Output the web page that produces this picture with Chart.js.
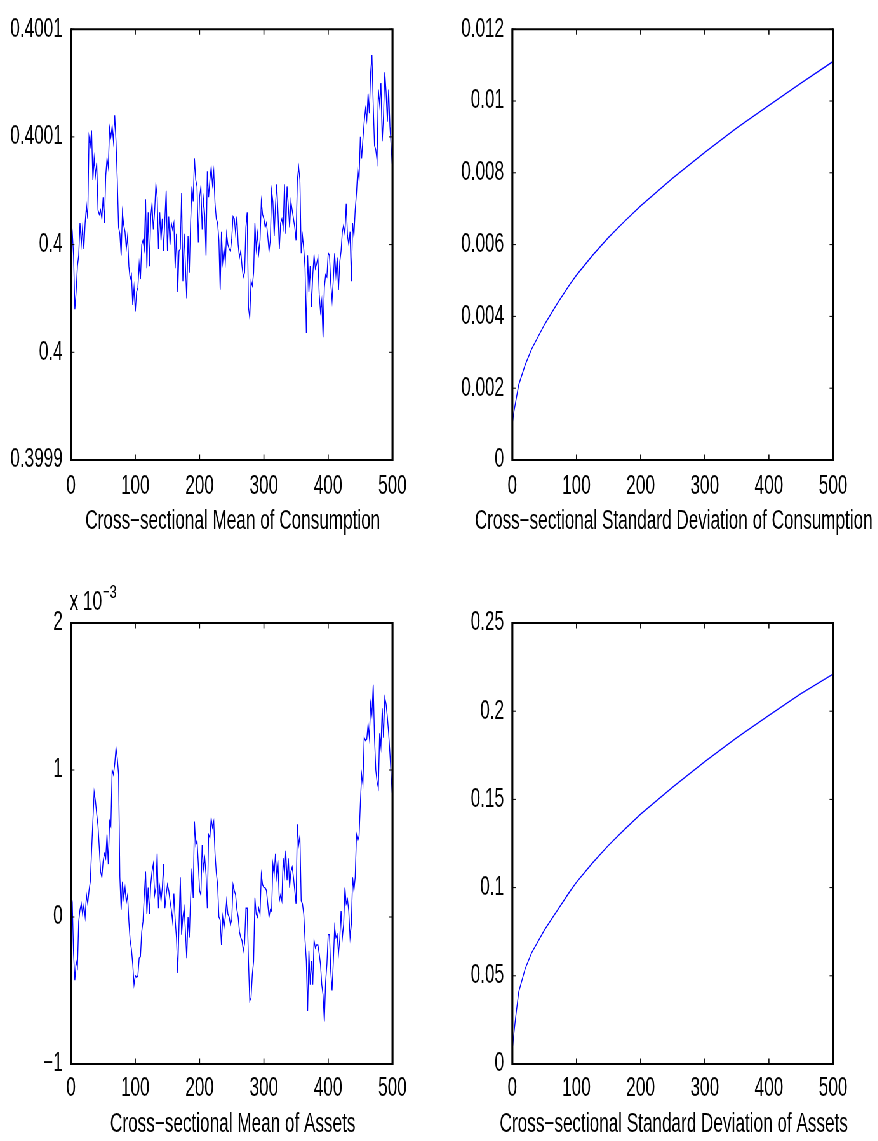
<!DOCTYPE html>
<html>
<head>
<meta charset="utf-8">
<script src="https://cdn.jsdelivr.net/npm/chart.js@4.4.1/dist/chart.umd.min.js"></script>
<style>
  html, body { margin: 0; padding: 0; background: #fff; }
  body { width: 878px; height: 1141px; overflow: hidden; position: relative; }
  #fig { position: absolute; left: 0; top: 0; width: 1400px; height: 1141px; transform-origin: 0 0; }
  #fig canvas { position: absolute; }
</style>
</head>
<body>
<div id="fig">
  <canvas id="meanCons"></canvas>
  <canvas id="sdCons"></canvas>
  <canvas id="meanAssets"></canvas>
  <canvas id="sdAssets"></canvas>
</div>
<script>
// simulation periods (every 2nd period is plotted)
var periods = [
  0, 2, 4, 6, 8, 10, 12, 14, 16, 18, 20, 22, 24, 26, 28, 30, 32, 34, 36, 38,
  40, 42, 44, 46, 48, 50, 52, 54, 56, 58, 60, 62, 64, 66, 68, 70, 72, 74, 76, 78,
  80, 82, 84, 86, 88, 90, 92, 94, 96, 98, 100, 102, 104, 106, 108, 110, 112, 114, 116, 118,
  120, 122, 124, 126, 128, 130, 132, 134, 136, 138, 140, 142, 144, 146, 148, 150, 152, 154, 156, 158,
  160, 162, 164, 166, 168, 170, 172, 174, 176, 178, 180, 182, 184, 186, 188, 190, 192, 194, 196, 198,
  200, 202, 204, 206, 208, 210, 212, 214, 216, 218, 220, 222, 224, 226, 228, 230, 232, 234, 236, 238,
  240, 242, 244, 246, 248, 250, 252, 254, 256, 258, 260, 262, 264, 266, 268, 270, 272, 274, 276, 278,
  280, 282, 284, 286, 288, 290, 292, 294, 296, 298, 300, 302, 304, 306, 308, 310, 312, 314, 316, 318,
  320, 322, 324, 326, 328, 330, 332, 334, 336, 338, 340, 342, 344, 346, 348, 350, 352, 354, 356, 358,
  360, 362, 364, 366, 368, 370, 372, 374, 376, 378, 380, 382, 384, 386, 388, 390, 392, 394, 396, 398,
  400, 402, 404, 406, 408, 410, 412, 414, 416, 418, 420, 422, 424, 426, 428, 430, 432, 434, 436, 438,
  440, 442, 444, 446, 448, 450, 452, 454, 456, 458, 460, 462, 464, 466, 468, 470, 472, 474, 476, 478,
  480, 482, 484, 486, 488, 490, 492, 494, 496, 498, 500
];

var meanConsumption = [
  0.400012, 0.400006, 0.399995, 0.399970, 0.399978, 0.399990, 0.399995, 0.400010, 0.400000, 0.400008,
  0.399998, 0.400010, 0.400018, 0.400012, 0.400050, 0.400046, 0.400053, 0.400030, 0.400040, 0.400032,
  0.400038, 0.400016, 0.400014, 0.400016, 0.400012, 0.400022, 0.400010, 0.400032, 0.400040, 0.400036,
  0.400054, 0.400050, 0.400055, 0.400048, 0.400060, 0.400048, 0.400030, 0.400008, 0.400005, 0.399995,
  0.400015, 0.400009, 0.400006, 0.399998, 0.400004, 0.399990, 0.399984, 0.399986, 0.399972, 0.399980,
  0.399969, 0.399978, 0.399980, 0.399991, 0.399984, 0.400000, 0.400002, 0.399998, 0.400021, 0.399989,
  0.400015, 0.399990, 0.400013, 0.400019, 0.400007, 0.400015, 0.400028, 0.400022, 0.399998, 0.400015,
  0.400002, 0.400012, 0.399997, 0.400012, 0.400025, 0.399997, 0.400013, 0.400000, 0.400010, 0.400007,
  0.400010, 0.399989, 0.400005, 0.399978, 0.399997, 0.399998, 0.400024, 0.399983, 0.400005, 0.399990,
  0.399975, 0.400004, 0.399987, 0.400010, 0.400027, 0.400020, 0.400040, 0.400030, 0.400027, 0.400001,
  0.400022, 0.400027, 0.400007, 0.400021, 0.400014, 0.399995, 0.400034, 0.400022, 0.400030, 0.400036,
  0.400028, 0.400034, 0.400019, 0.400012, 0.400010, 0.400002, 0.399979, 0.400006, 0.399992, 0.399998,
  0.399992, 0.400005, 0.400000, 0.399998, 0.399997, 0.400003, 0.400013, 0.400012, 0.400005, 0.400013,
  0.400000, 0.399994, 0.399997, 0.399990, 0.399985, 0.399987, 0.400008, 0.400015, 0.399971, 0.399966,
  0.399983, 0.399981, 0.399987, 0.400010, 0.399998, 0.400005, 0.399996, 0.400002, 0.400020, 0.400014,
  0.400012, 0.400008, 0.400010, 0.400004, 0.399997, 0.400002, 0.400025, 0.400020, 0.400004, 0.400018,
  0.400028, 0.400014, 0.399998, 0.400010, 0.400012, 0.400008, 0.400028, 0.400005, 0.400027, 0.400018,
  0.400008, 0.400020, 0.400016, 0.400012, 0.400008, 0.400002, 0.400030, 0.400036, 0.400030, 0.399996,
  0.400004, 0.399998, 0.399989, 0.399959, 0.399995, 0.399978, 0.399990, 0.399971, 0.399986, 0.399995,
  0.399989, 0.399991, 0.399994, 0.399977, 0.399969, 0.399974, 0.399957, 0.399980, 0.399986, 0.399985,
  0.399996, 0.399995, 0.399982, 0.399974, 0.399984, 0.399996, 0.399986, 0.399994, 0.399979, 0.399992,
  0.399997, 0.400006, 0.400009, 0.400005, 0.400019, 0.400004, 0.400000, 0.400006, 0.399983, 0.400010,
  0.400004, 0.400016, 0.400024, 0.400035, 0.400030, 0.400050, 0.400040, 0.400049, 0.400057, 0.400063,
  0.400058, 0.400070, 0.400061, 0.400080, 0.400088, 0.400065, 0.400046, 0.400044, 0.400039, 0.400072,
  0.400065, 0.400075, 0.400048, 0.400060, 0.400080, 0.400071, 0.400057, 0.400072, 0.400055, 0.400045,
  0.400035
];

// assets are plotted in units of 10^-3
var meanAssetsE3 = [
  0.17, 0.10, -0.25, -0.43, -0.30, -0.34, -0.03, 0.05, 0.09, 0.02,
  0.08, 0.00, 0.15, 0.09, 0.18, 0.24, 0.45, 0.65, 0.85, 0.79,
  0.70, 0.62, 0.47, 0.31, 0.27, 0.38, 0.43, 0.40, 0.56, 0.36,
  0.65, 0.62, 1.00, 0.97, 1.04, 1.15, 1.08, 0.97, 0.27, 0.05,
  0.24, 0.13, 0.20, 0.10, 0.15, -0.03, -0.16, -0.22, -0.32, -0.46,
  -0.40, -0.41, -0.40, -0.28, -0.27, -0.10, -0.03, 0.15, 0.31, 0.02,
  0.20, 0.02, 0.22, 0.31, 0.36, 0.15, 0.20, 0.43, 0.06, 0.20,
  0.11, 0.20, 0.36, 0.06, 0.15, 0.22, 0.18, 0.11, 0.05, -0.03,
  0.16, -0.02, -0.14, -0.38, -0.05, 0.27, -0.12, 0.00, 0.06, -0.10,
  -0.28, 0.00, -0.14, 0.13, 0.33, 0.13, 0.65, 0.49, 0.52, 0.36,
  0.18, 0.15, 0.49, 0.33, 0.40, 0.29, 0.06, 0.56, 0.54, 0.67,
  0.61, 0.65, 0.43, 0.30, 0.22, 0.00, -0.02, -0.19, 0.00, -0.07,
  0.00, 0.11, 0.02, 0.00, -0.05, -0.02, 0.22, 0.18, 0.15, 0.05,
  0.00, -0.10, -0.14, -0.16, -0.23, -0.18, 0.06, 0.06, -0.30, -0.57,
  -0.55, -0.39, -0.30, 0.13, 0.02, 0.00, 0.06, 0.02, 0.29, 0.22,
  0.20, 0.20, 0.18, 0.09, 0.00, 0.05, 0.04, 0.36, 0.29, 0.43,
  0.27, 0.35, 0.11, 0.15, 0.11, 0.40, 0.29, 0.45, 0.25, 0.40,
  0.20, 0.31, 0.34, 0.27, 0.18, 0.09, 0.63, 0.49, 0.55, 0.11,
  0.09, 0.02, -0.16, -0.30, -0.64, -0.23, -0.46, -0.30, -0.46, -0.16,
  -0.21, -0.19, -0.19, -0.25, -0.32, -0.46, -0.53, -0.71, -0.44, -0.32,
  -0.12, -0.12, -0.37, -0.50, -0.30, -0.07, -0.14, -0.12, -0.25, -0.15,
  0.04, -0.14, -0.05, 0.20, 0.09, 0.12, 0.04, -0.14, -0.05, 0.27,
  0.18, 0.27, 0.56, 0.52, 0.55, 0.77, 0.97, 0.90, 1.22, 1.20,
  1.21, 1.31, 1.22, 1.45, 1.38, 1.58, 1.22, 1.00, 0.92, 0.88,
  1.25, 1.16, 1.42, 1.22, 1.49, 1.45, 1.36, 1.25, 1.11, 0.95,
  0.81
];

var sdPeriods = [0, 2, 5, 10, 20, 30, 50, 70, 90, 100, 125, 150, 175, 200, 250, 300, 350, 400, 450, 500];
var sdConsumption = [0.00100, 0.00130, 0.00160, 0.00210, 0.00265, 0.00309, 0.00377, 0.00436, 0.00490, 0.00515,
  0.00570, 0.00620, 0.00665, 0.00708, 0.00785, 0.00857, 0.00925, 0.00988, 0.01050, 0.01110];
var sdAssets = [0.008, 0.016, 0.026, 0.041, 0.054, 0.063, 0.076, 0.087, 0.098, 0.103,
  0.114, 0.124, 0.133, 0.1416, 0.157, 0.1714, 0.185, 0.1976, 0.210, 0.221];

var xTicks = [0, 100, 200, 300, 400, 500];
var meanConsTicks = [0.3999, 0.39995, 0.4, 0.40005, 0.4001];
var meanConsLabels = ['0.3999', '0.4', '0.4', '0.4001', '0.4001'];
var meanAssetTicks = [-1, 0, 1, 2];
var meanAssetLabels = ['\u22121', '0', '1', '2'];
var sdConsTicks = [0, 0.002, 0.004, 0.006, 0.008, 0.01, 0.012];
var sdConsLabels = ['0', '0.002', '0.004', '0.006', '0.008', '0.01', '0.012'];
var sdAssetTicks = [0, 0.05, 0.1, 0.15, 0.2, 0.25];
var sdAssetLabels = ['0', '0.05', '0.1', '0.15', '0.2', '0.25'];

// the whole figure is drawn wide and squeezed sideways
var S = 0.635;
var FONT = 27;
var FAMILY = "'Liberation Sans', Arial, Helvetica, sans-serif";
document.getElementById('fig').style.transform = 'scaleX(' + S + ')';

Chart.defaults.font.family = FAMILY;
Chart.defaults.font.size = FONT;
Chart.defaults.color = '#000';

// box with inward tick marks on all four sides
var boxPlugin = {
  id: 'box',
  afterDraw: function (chart) {
    var ctx = chart.ctx, a = chart.chartArea, x = chart.scales.x, y = chart.scales.y;
    var tl = 5.5;
    ctx.save();
    ctx.strokeStyle = '#000';
    ctx.lineWidth = 1 / S;
    x.ticks.forEach(function (t) {
      var px = x.getPixelForValue(t.value);
      ctx.beginPath();
      ctx.moveTo(px, a.bottom); ctx.lineTo(px, a.bottom - tl);
      ctx.moveTo(px, a.top); ctx.lineTo(px, a.top + tl);
      ctx.stroke();
    });
    ctx.lineWidth = 1;
    y.ticks.forEach(function (t) {
      var py = y.getPixelForValue(t.value);
      ctx.beginPath();
      ctx.moveTo(a.left, py); ctx.lineTo(a.left + tl, py);
      ctx.moveTo(a.right, py); ctx.lineTo(a.right - tl, py);
      ctx.stroke();
    });
    ctx.lineWidth = 2;
    ctx.beginPath();
    ctx.moveTo(a.left, a.top); ctx.lineTo(a.right, a.top);
    ctx.moveTo(a.left, a.bottom); ctx.lineTo(a.right, a.bottom);
    ctx.stroke();
    ctx.lineWidth = 2 / S;
    ctx.beginPath();
    ctx.moveTo(a.left, a.top - 1); ctx.lineTo(a.left, a.bottom + 1);
    ctx.moveTo(a.right, a.top - 1); ctx.lineTo(a.right, a.bottom + 1);
    ctx.stroke();
    ctx.restore();
  }
};

// axis caption under each panel, centred on the plot box
var xLabelPlugin = {
  id: 'xlabel',
  afterDraw: function (chart, args, opts) {
    var ctx = chart.ctx, a = chart.chartArea;
    ctx.save();
    ctx.fillStyle = '#000';
    ctx.font = FONT + 'px ' + FAMILY;
    ctx.textAlign = 'center';
    ctx.textBaseline = 'middle';
    ctx.fillText(opts.text, (a.left + a.right) / 2 + (opts.dx || 0) / S, a.bottom + opts.dy);
    ctx.restore();
  }
};

// "x 10^-3" multiplier above the assets axis
var exponentPlugin = {
  id: 'exponent',
  afterDraw: function (chart) {
    var ctx = chart.ctx, a = chart.chartArea;
    ctx.save();
    ctx.fillStyle = '#000';
    ctx.textBaseline = 'alphabetic';
    ctx.font = FONT + 'px ' + FAMILY;
    var base = 'x 10';
    ctx.fillText(base, a.left - 2, a.top - 13);
    var w = ctx.measureText(base).width;
    ctx.font = Math.round(FONT * 0.72) + 'px ' + FAMILY;
    ctx.fillText('\u22123', a.left - 2 + w + 1, a.top - 25);
    ctx.restore();
  }
};

function points(xs, ys) {
  return xs.map(function (t, i) { return { x: t, y: ys[i] }; });
}

// frame = canvas rectangle, area = plot box, both in page pixels
function makePanel(id, frame, area, xs, ys, yMin, yMax, yTicks, yLabels, caption, tickPad, captionDy, extra) {
  var cv = document.getElementById(id);
  cv.width = Math.round((frame.right - frame.left) / S);
  cv.height = frame.bottom - frame.top;
  cv.style.left = (frame.left / S) + 'px';
  cv.style.top = frame.top + 'px';
  var padL = (area.left - frame.left) / S;
  var padR = cv.width - (area.right - frame.left) / S;
  var padT = area.top - frame.top;
  var padB = frame.bottom - area.bottom;

  var plugins = [boxPlugin, xLabelPlugin];
  if (extra) plugins.push(extra);

  return new Chart(cv, {
    type: 'line',
    data: {
      datasets: [{
        data: points(xs, ys),
        borderColor: '#0000ff',
        borderWidth: 1.4,
        pointRadius: 0,
        fill: false,
        tension: 0
      }]
    },
    options: {
      responsive: false,
      animation: false,
      devicePixelRatio: 1,
      layout: { padding: { top: padT, right: padR, left: 0, bottom: 0 } },
      plugins: {
        legend: { display: false },
        tooltip: { enabled: false },
        xlabel: { text: caption, dy: captionDy, dx: 1 }
      },
      scales: {
        x: {
          type: 'linear', min: 0, max: 500,
          afterBuildTicks: function (s) { s.ticks = xTicks.map(function (v) { return { value: v }; }); },
          afterFit: function (s) { s.height = padB; },
          grid: { display: false, drawTicks: false },
          border: { display: false },
          ticks: { padding: tickPad, maxRotation: 0, autoSkip: false, callback: function (v) { return String(v); } }
        },
        y: {
          type: 'linear', min: yMin, max: yMax,
          afterBuildTicks: function (s) { s.ticks = yTicks.map(function (v) { return { value: v }; }); },
          afterFit: function (s) { s.width = padL; },
          grid: { display: false, drawTicks: false },
          border: { display: false },
          ticks: { padding: 13, autoSkip: false, callback: function (v, i) { return yLabels[i]; } }
        }
      }
    },
    plugins: plugins
  });
}

makePanel('meanCons',
  { left: 0, right: 440, top: 0, bottom: 545 },
  { left: 71, right: 392.5, top: 22, bottom: 460 },
  periods, meanConsumption, 0.3999, 0.4001, meanConsTicks, meanConsLabels,
  'Cross\u2212sectional Mean of Consumption', 10, 62);

makePanel('sdCons',
  { left: 440, right: 878, top: 0, bottom: 545 },
  { left: 512.3, right: 833, top: 22, bottom: 460 },
  sdPeriods, sdConsumption, 0, 0.012, sdConsTicks, sdConsLabels,
  'Cross\u2212sectional Standard Deviation of Consumption', 10, 62);

makePanel('meanAssets',
  { left: 0, right: 440, top: 575, bottom: 1141 },
  { left: 71, right: 392.5, top: 623, bottom: 1064 },
  periods, meanAssetsE3, -1, 2, meanAssetTicks, meanAssetLabels,
  'Cross\u2212sectional Mean of Assets', 8, 61, exponentPlugin);

makePanel('sdAssets',
  { left: 440, right: 878, top: 575, bottom: 1141 },
  { left: 512.3, right: 833, top: 623, bottom: 1064 },
  sdPeriods, sdAssets, 0, 0.25, sdAssetTicks, sdAssetLabels,
  'Cross\u2212sectional Standard Deviation of Assets', 8, 61);
</script>
</body>
</html>
